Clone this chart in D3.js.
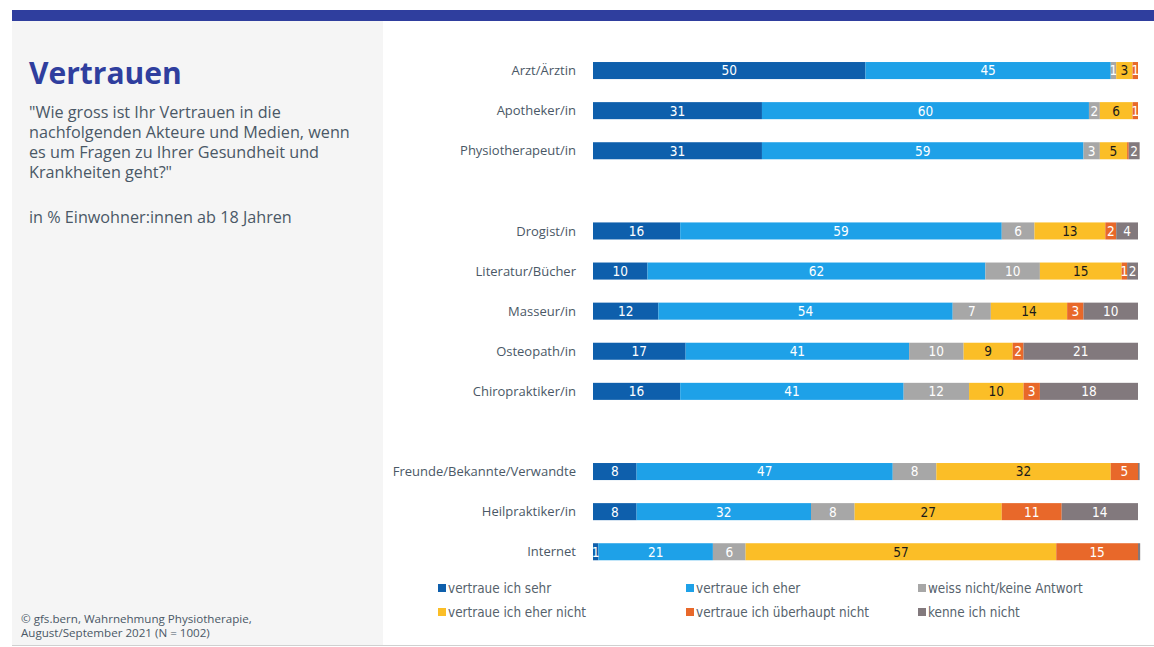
<!DOCTYPE html>
<html>
<head>
<meta charset="utf-8">
<script src="https://cdn.jsdelivr.net/npm/d3@7"></script>
<style>
  body { margin: 0; background: #fff; }
  svg { display: block; }
</style>
</head>
<body>
<svg id="chart" width="1154" height="647"></svg>
<script>
// Survey items (top to bottom); empty strings are spacer rows between groups
const categories = [
  "Arzt/Ärztin", "Apotheker/in", "Physiotherapeut/in", "",
  "Drogist/in", "Literatur/Bücher", "Masseur/in", "Osteopath/in", "Chiropraktiker/in", "",
  "Freunde/Bekannte/Verwandte", "Heilpraktiker/in", "Internet"
];

// Answer categories (stack order, left to right)
const seriesNames = [
  "vertraue ich sehr", "vertraue ich eher", "weiss nicht/keine Antwort",
  "vertraue ich eher nicht", "vertraue ich überhaupt nicht", "kenne ich nicht"
];
const seriesColors = ["#0e5fac", "#1ea1e8", "#a7a7a7", "#fbbe27", "#e8682a", "#82797d"];
const labelColors  = ["#ffffff", "#ffffff", "#ffffff", "#1a1a1a", "#ffffff", "#ffffff"];

// Share in % per answer, one array per series (null = spacer row)
const sehr        = [50, 31, 31, null, 16, 10, 12, 17, 16, null, 8, 8, 1];
const eher        = [45, 60, 59, null, 59, 62, 54, 41, 41, null, 47, 32, 21];
const weissNicht  = [1, 2, 3, null, 6, 10, 7, 10, 12, null, 8, 8, 6];
const eherNicht   = [3, 6, 5, null, 13, 15, 14, 9, 10, null, 32, 27, 57];
const ueberhaupt  = [1, 1, 0.3, null, 2, 1, 3, 2, 3, null, 5, 11, 15];
const kenneNicht  = [0, 0, 2, null, 4, 2, 10, 21, 18, null, 0.3, 14, 0.4];
const seriesValues = [sehr, eher, weissNicht, eherNicht, ueberhaupt, kenneNicht];

const svg = d3.select("#chart");
const textColor = "#4a5866";
const condensed = "'Liberation Sans Narrow', 'DejaVu Sans Condensed', sans-serif";

// Page frame: header band, grey side panel, bottom rule
svg.append("rect").attr("x", 12).attr("y", 10).attr("width", 1142).attr("height", 11).attr("fill", "#2f3e9e");
svg.append("rect").attr("x", 12).attr("y", 21).attr("width", 371).attr("height", 624).attr("fill", "#f5f5f5");
svg.append("line").attr("x1", 12).attr("x2", 1154).attr("y1", 645.5).attr("y2", 645.5)
  .attr("stroke", "#d0d0d0").attr("stroke-width", 1);

// Side panel texts
svg.append("text").attr("x", 29).attr("y", 84)
  .attr("font-family", "'Open Sans', sans-serif").attr("font-weight", 700)
  .attr("font-size", 30).attr("fill", "#2f3e9e").text("Vertrauen");

const question = [
  "\"Wie gross ist Ihr Vertrauen in die",
  "nachfolgenden Akteure und Medien, wenn",
  "es um Fragen zu Ihrer Gesundheit und",
  "Krankheiten geht?\""
];
svg.append("g").selectAll("text").data(question).join("text")
  .attr("x", 29).attr("y", (d, i) => 118 + i * 20)
  .attr("font-family", "'Open Sans', sans-serif").attr("font-size", 16.2)
  .attr("fill", textColor).text(d => d);

svg.append("text").attr("x", 29).attr("y", 223)
  .attr("font-family", "'Open Sans', sans-serif").attr("font-size", 16.2)
  .attr("fill", textColor).text("in % Einwohner:innen ab 18 Jahren");

const source = ["©  gfs.bern, Wahrnehmung Physiotherapie,", "August/September 2021 (N = 1002)"];
svg.append("g").selectAll("text").data(source).join("text")
  .attr("x", 21).attr("y", (d, i) => 622.5 + i * 14.5)
  .attr("font-family", "'Open Sans', sans-serif").attr("font-size", 11.6)
  .attr("fill", textColor).text(d => d);

// Scales
const x = d3.scaleLinear().domain([0, 100]).range([593, 1138]);
const y = d3.scaleBand().domain(d3.range(categories.length))
  .range([50.5, 50.5 + 40.1 * categories.length]).paddingInner(0.575).paddingOuter(0.2875);

// Stack rows
const rows = categories.map((c, i) => {
  const o = { idx: i, cat: c };
  seriesNames.forEach((s, k) => { o[s] = seriesValues[k][i] || 0; });
  return o;
}).filter(d => d.cat !== "");

const stacked = d3.stack().keys(seriesNames)(rows);

// Category labels
svg.append("g").selectAll("text").data(rows).join("text")
  .attr("x", 576).attr("y", d => y(d.idx) + y.bandwidth() / 2)
  .attr("dy", "0.35em").attr("text-anchor", "end")
  .attr("font-family", "'Open Sans', sans-serif").attr("font-size", 13)
  .attr("fill", textColor).text(d => d.cat);

// Bars
const layers = svg.append("g").selectAll("g").data(stacked).join("g")
  .attr("fill", (d, k) => seriesColors[k]);

layers.selectAll("rect").data(d => d).join("rect")
  .attr("x", d => x(d[0]))
  .attr("y", d => y(d.data.idx))
  .attr("width", d => Math.max(0, x(d[1]) - x(d[0])))
  .attr("height", y.bandwidth());

// Value labels inside segments
const labels = svg.append("g").selectAll("g").data(stacked).join("g")
  .attr("fill", (d, k) => labelColors[k]);

labels.selectAll("text").data(d => d.filter(p => p[1] - p[0] >= 1)).join("text")
  .attr("x", d => (x(d[0]) + x(d[1])) / 2)
  .attr("y", d => y(d.data.idx) + y.bandwidth() / 2)
  .attr("dy", "0.36em").attr("text-anchor", "middle")
  .attr("font-family", condensed)
  .attr("font-size", 13.5)
  .text(d => Math.round(d[1] - d[0]));

// Legend
const legendPos = [[438, 588], [686, 588], [918, 588], [438, 612], [686, 612], [918, 612]];
const legend = svg.append("g").selectAll("g").data(seriesNames).join("g")
  .attr("transform", (d, k) => `translate(${legendPos[k][0]},${legendPos[k][1]})`);
legend.append("rect").attr("x", 0).attr("y", -4).attr("width", 8).attr("height", 8)
  .attr("fill", (d, k) => seriesColors[k]);
legend.append("text").attr("x", 10).attr("dy", "0.35em")
  .attr("font-family", condensed)
  .attr("font-size", 13.4).attr("fill", "#56626c").text(d => d);
</script>
</body>
</html>
